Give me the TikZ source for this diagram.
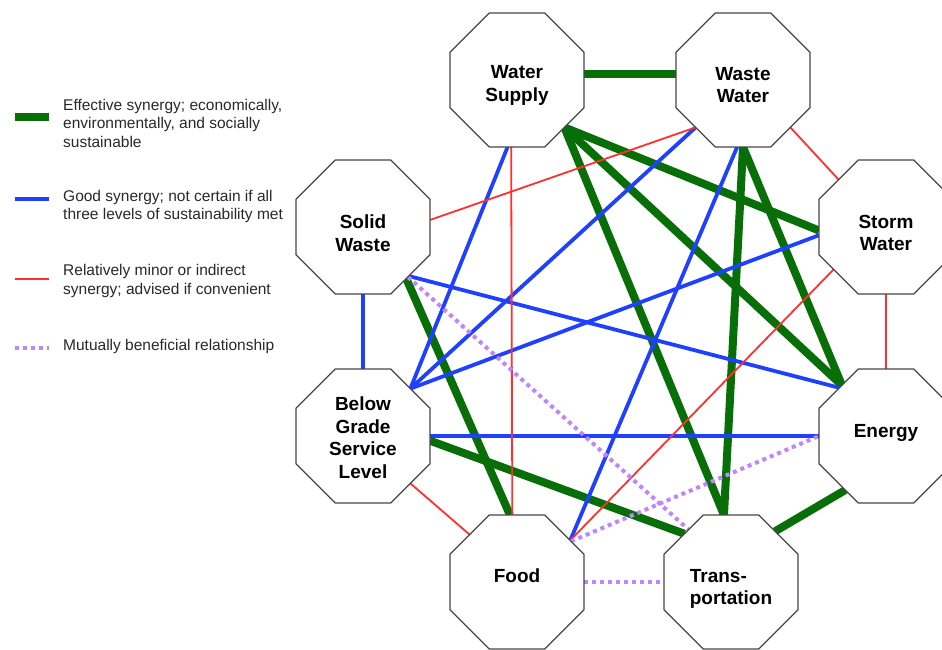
\documentclass[tikz,border=0pt]{standalone}
\usepackage{fontspec}
\setmainfont{Liberation Sans}
\usetikzlibrary{shapes.geometric,backgrounds,positioning}
\definecolor{effgreen}{RGB}{8,110,8}
\definecolor{goodblue}{RGB}{32,64,255}
\definecolor{minorred}{RGB}{255,48,48}
\definecolor{mutualpurple}{RGB}{192,132,255}
\definecolor{octgray}{RGB}{70,70,70}
\definecolor{legendtext}{RGB}{40,40,40}
\begin{document}
\begin{tikzpicture}
[x=1pt,y=1pt,
sector/.style={regular polygon,regular polygon sides=8,minimum size=145pt,inner sep=0pt,outer sep=0pt,draw=octgray,line width=1.3pt,fill=white},
sectortext/.style={inner sep=0pt,align=center,font=\fontsize{19}{22.5}\selectfont\bfseries},
effective/.style={draw=effgreen,line width=8pt},
good/.style={draw=goodblue,line width=3.8pt},
minor/.style={draw=minorred,line width=1.8pt},
mutual/.style={draw=mutualpurple,line width=4pt,dash pattern=on 4pt off 4pt},
legend/.style={anchor=west,inner sep=0pt,align=left,text=legendtext,font=\fontsize{15.5}{18.5}\selectfont}]
\useasboundingbox (0,0) rectangle (942,-649);
% sectors
\node[sector] (watersupply) at (517,-80) {};
\node[sector] (wastewater) at (743,-80) {};
\node[sector] (stormwater) at (886,-227) {};
\node[sector] (energy) at (886,-436) {};
\node[sector] (transport) at (731,-582) {};
\node[sector] (food) at (517,-582) {};
\node[sector] (belowgrade) at (363,-436) {};
\node[sector] (solidwaste) at (363,-227) {};
\node[sectortext] (watersupplytext) at ([yshift=-5.4pt]watersupply) {Water\\Supply};
\node[sectortext] (wastewatertext) at ([yshift=-5pt]wastewater) {Waste\\Water};
\node[sectortext] (stormwatertext) at ([yshift=-6pt]stormwater) {Storm\\Water};
\node[sectortext] (energytext) at ([yshift=3.4pt]energy) {Energy};
\node[sectortext,align=left] (transporttext) at ([yshift=-6.7pt]transport) {Trans-\\portation};
\node[sectortext] (foodtext) at ([yshift=6.7pt]food) {Food};
\node[sectortext] (belowgradetext) at ([yshift=-1.6pt]belowgrade) {Below\\Grade\\Service\\Level};
\node[sectortext] (solidwastetext) at ([yshift=-6pt]solidwaste) {Solid\\Waste};
% links
\begin{scope}[on background layer]
\draw (watersupply.5) edge[effective] (wastewater.175);
\draw (watersupply.-45) edge[effective] (stormwater.183);
\draw (watersupply.-45) edge[effective] (energy.131);
\draw (watersupply.-45) edge[effective] (transport.96);
\draw (wastewater.270) edge[effective] (transport.96);
\draw (wastewater.270) edge[effective] (energy.131);
\draw (solidwaste.-50) edge[effective] (food.96);
\draw (belowgrade.-4) edge[effective] (transport.134);
\draw (energy.233) edge[effective] (transport.49);
\draw (solidwaste.south) edge[good] (belowgrade.north);
\draw (watersupply.262) edge[good] (belowgrade.45);
\draw (wastewater.225) edge[good] (belowgrade.45);
\draw (wastewater.265) edge[good] (food.38);
\draw (stormwater.187) edge[good] (belowgrade.45);
\draw (solidwaste.-47) edge[good] (energy.134);
\draw (belowgrade.east) edge[good] (energy.west);
\draw (wastewater.-45) edge[minor] (stormwater.135);
\draw (stormwater.south) edge[minor] (energy.north);
\draw (belowgrade.-45) edge[minor] (food.135);
\draw (solidwaste.6) edge[minor] (wastewater.225);
\draw (watersupply.265.5) edge[minor] (food.94.7);
\draw (stormwater.219) edge[minor] (food.38);
\draw (food.east) edge[mutual] (transport.west);
\draw (solidwaste.-48) edge[mutual] (transport.129);
\draw (food.37) edge[mutual] (energy.west);
\end{scope}
% legend
\coordinate (key1) at (15,-117);
\coordinate (key1end) at (49,-117);
\draw[effective] (key1) -- (key1end);
\node[legend,right=14pt of key1end,yshift=-6pt] (text1) {Effective synergy; economically,\\environmentally, and socially\\sustainable};
\coordinate (key2) at (15,-199);
\coordinate (key2end) at (49,-199);
\draw[good] (key2) -- (key2end);
\node[legend,right=14pt of key2end,yshift=-7.5pt] (text2) {Good synergy; not certain if all\\three levels of sustainability met};
\coordinate (key3) at (15,-279);
\coordinate (key3end) at (49,-279);
\draw[minor] (key3) -- (key3end);
\node[legend,right=14pt of key3end,yshift=-2pt] (text3) {Relatively minor or indirect\\synergy; advised if convenient};
\coordinate (key4) at (15,-348);
\coordinate (key4end) at (49,-348);
\draw[mutual] (key4) -- (key4end);
\node[legend,right=14pt of key4end,yshift=2pt] (text4) {Mutually beneficial relationship};
\end{tikzpicture}
\end{document}
